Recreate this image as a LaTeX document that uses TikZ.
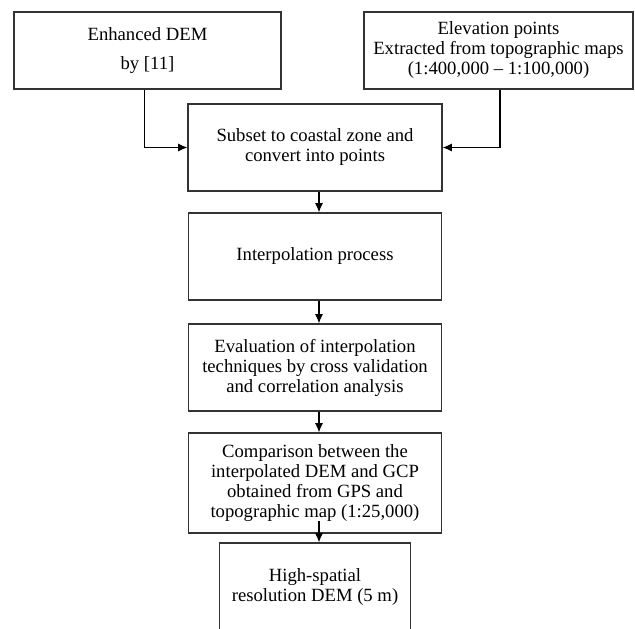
\documentclass[tikz,border=0pt]{standalone}
\usepackage{fontspec}
\setmainfont{Liberation Serif}
\usetikzlibrary{arrows.meta}
\begin{document}
\begin{tikzpicture}[x=0.75pt,y=-0.75pt,>={Latex[length=7pt,width=6pt]},
  box/.style={draw=black!80,line width=0.8pt,align=center,inner sep=0pt,
    font=\fontsize{14}{15}\selectfont},
  boxsize/.style 2 args={minimum width=#1*0.75pt,minimum height=#2*0.75pt},
  link/.style={->,line width=0.8pt}]
  \useasboundingbox (0,0) rectangle (635,628);

  \coordinate (c0) at (147.5,50.5);
  \coordinate (c1) at (498.5,50.5);
  \coordinate (c2) at (315,147.5);
  \coordinate (c3) at (315,256.5);
  \coordinate (c4) at (315,367.5);
  \coordinate (c5) at (315,483);
  \coordinate (c6) at (315,587);

  \node[box,boxsize={267}{77}] (dem) at (c0) {Enhanced DEM\\[7pt]by [11]};
  \node[box,boxsize={269}{77}] (elev) at (c1) {Elevation points\\Extracted from topographic maps\\(1:400,000 -- 1:100,000)};
  \node[box,boxsize={254}{87}] (subset) at (c2) {Subset to coastal zone and\\convert into points};
  \node[box,boxsize={253}{87}] (interp) at (c3) {Interpolation process};
  \node[box,boxsize={253}{87}] (eval) at (c4) {Evaluation of interpolation\\techniques by cross validation\\and correlation analysis};
  \node[box,boxsize={253}{100}] (comp) at (c5) {Comparison between the\\interpolated DEM and GCP\\obtained from GPS and\\topographic map (1:25,000)};
  \node[box,boxsize={191}{88}] (hires) at (c6) {High-spatial\\resolution DEM (5 m)};

  \draw[link] ([xshift=-2.6pt]dem.south) |- (subset.west);
  \draw[link] ([xshift=1.1pt]elev.south) |- (subset.east);
  \draw[link] ([xshift=3pt]subset.south) -- ([xshift=3pt]interp.north);
  \draw[link] ([xshift=3pt]interp.south) -- ([xshift=3pt]eval.north);
  \draw[link] ([xshift=3pt]eval.south) -- ([xshift=3pt]comp.north);
  \draw[link] ([xshift=3pt,yshift=9.75pt]comp.south) -- ([xshift=3pt]hires.north);

\end{tikzpicture}
\end{document}
